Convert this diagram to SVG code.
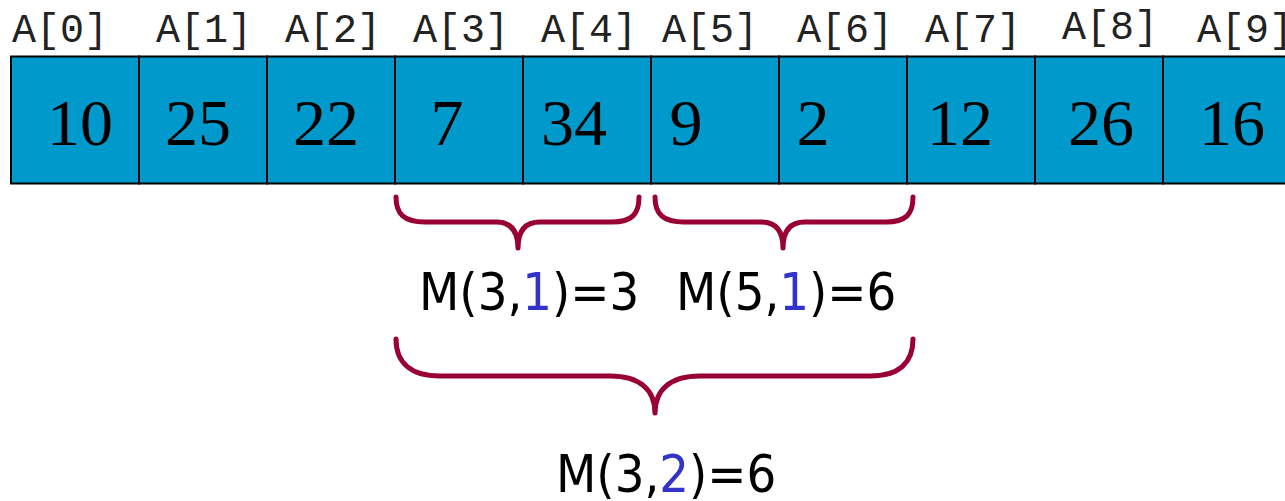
<svg xmlns="http://www.w3.org/2000/svg" width="1285" height="501" viewBox="0 0 1285 501">
<style>
.idx{font-family:"Liberation Mono","Courier New",monospace;font-size:40px;fill:#222}
.val{font-family:"Liberation Serif","Times New Roman",serif;font-size:66px;fill:#000;text-anchor:middle}
.cell{fill:#0099cc;stroke:#000;stroke-width:2}
.brace{fill:none;stroke:#990033;stroke-width:5;stroke-linecap:round;stroke-linejoin:round}
.m{font-family:"DejaVu Sans Condensed","DejaVu Sans",sans-serif;font-stretch:condensed;font-size:52px;fill:#000}
.b{fill:#3333cc}
</style>
<g id="cells">
<g id="c0"><rect class="cell" x="11" y="56.5" width="128" height="127"/><text class="idx" x="12" y="42">A[0]</text><text class="val" x="80" y="145">10</text></g>
<g id="c1"><rect class="cell" x="139" y="56.5" width="128" height="127"/><text class="idx" x="156" y="42">A[1]</text><text class="val" x="198" y="145">25</text></g>
<g id="c2"><rect class="cell" x="267" y="56.5" width="128" height="127"/><text class="idx" x="285" y="42">A[2]</text><text class="val" x="326" y="145">22</text></g>
<g id="c3"><rect class="cell" x="395" y="56.5" width="128" height="127"/><text class="idx" x="413" y="42">A[3]</text><text class="val" x="447" y="145">7</text></g>
<g id="c4"><rect class="cell" x="523" y="56.5" width="128" height="127"/><text class="idx" x="541" y="42">A[4]</text><text class="val" x="574" y="145">34</text></g>
<g id="c5"><rect class="cell" x="651" y="56.5" width="128" height="127"/><text class="idx" x="662" y="42">A[5]</text><text class="val" x="686" y="145">9</text></g>
<g id="c6"><rect class="cell" x="779" y="56.5" width="128" height="127"/><text class="idx" x="797" y="42">A[6]</text><text class="val" x="813" y="145">2</text></g>
<g id="c7"><rect class="cell" x="907" y="56.5" width="128" height="127"/><text class="idx" x="925" y="42">A[7]</text><text class="val" x="960" y="145">12</text></g>
<g id="c8"><rect class="cell" x="1035" y="56.5" width="128" height="127"/><text class="idx" x="1062" y="39">A[8]</text><text class="val" x="1101" y="145">26</text></g>
<g id="c9"><rect class="cell" x="1163" y="56.5" width="128" height="127"/><text class="idx" x="1197" y="42">A[9]</text><text class="val" x="1232" y="145">16</text></g>
</g>
<g id="connectors">
<path class="brace" d="M396,197 C396,214 404,222 425,222 L496,222 C512,222 518,232 518,248 C518,232 524,222 540,222 L612,222 C632,222 639,214 639,197"/>
<path class="brace" d="M655,197 C655,214 663,222 684,222 L761,222 C777,222 783,232 783,248 C783,232 789,222 805,222 L886,222 C906,222 913,214 913,197"/>
<path class="brace" d="M396,339 C396,362 410,376 440,376 L610,376 C640,376 655,390 655,413 C655,390 670,376 700,376 L870,376 C900,376 913,362 913,339"/>
</g>
<g id="m31"><text class="m" x="419" y="310">M(3,<tspan class="b">1</tspan>)=3</text></g>
<g id="m51"><text class="m" x="676" y="310">M(5,<tspan class="b">1</tspan>)=6</text></g>
<g id="m32"><text class="m" x="556" y="492">M(3,<tspan class="b">2</tspan>)=6</text></g>
</svg>
